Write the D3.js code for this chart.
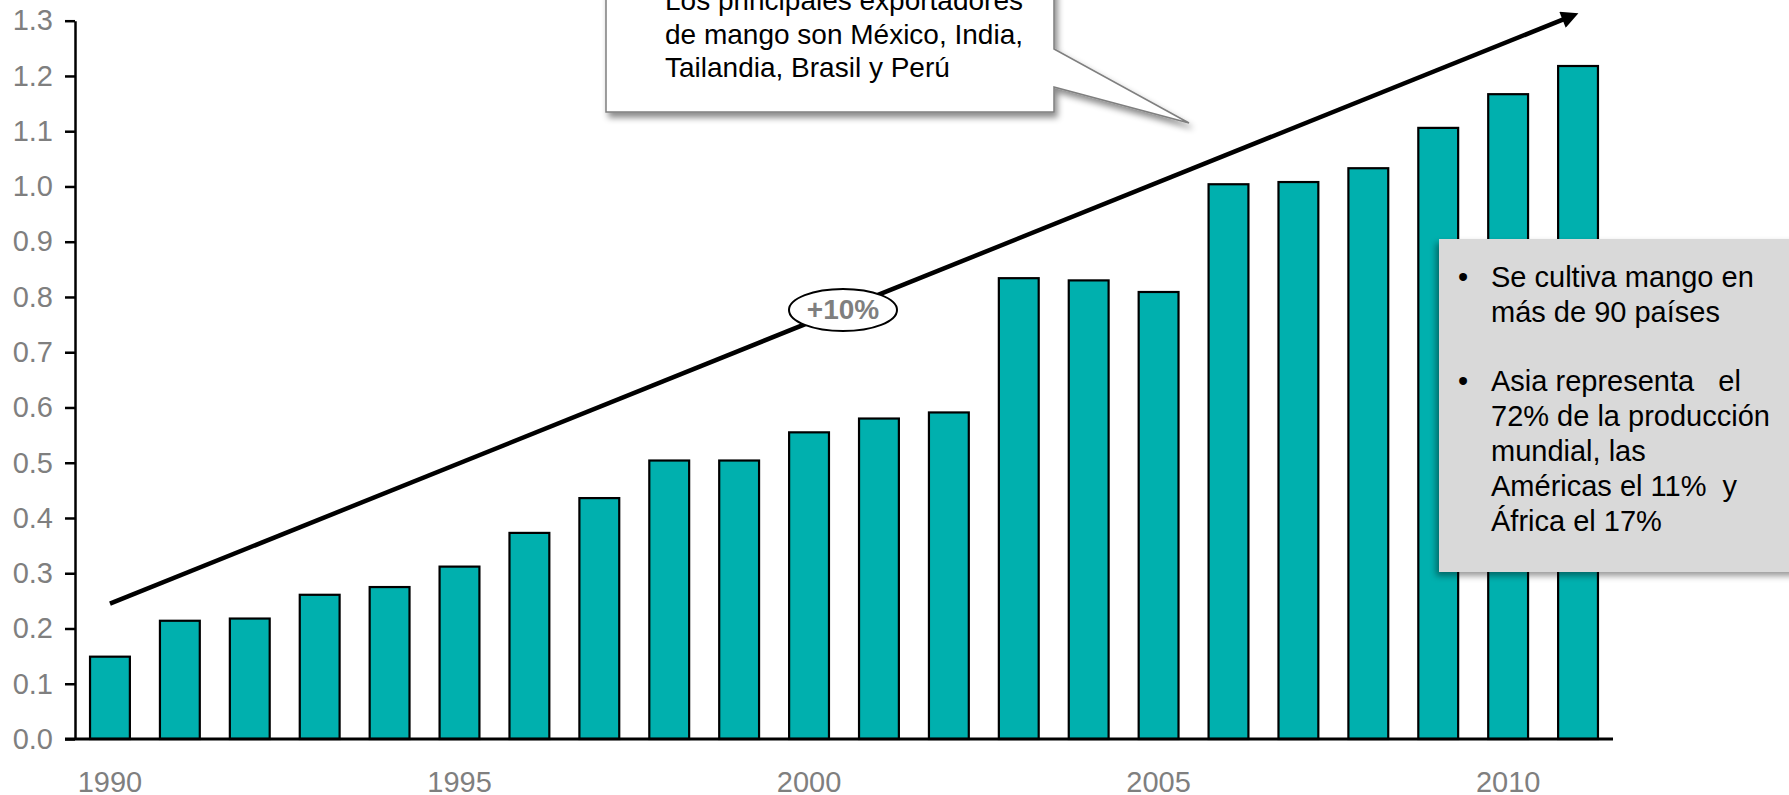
<!DOCTYPE html>
<html>
<head>
<meta charset="utf-8">
<script src="https://cdn.jsdelivr.net/npm/d3@7"></script>
<style>
  body { margin: 0; background: #fff; }
  svg { display: block; font-family: "Liberation Sans", Arial, sans-serif; }
  text { white-space: pre; }
</style>
</head>
<body>
<script>
// chart data
var years = [1990, 1991, 1992, 1993, 1994, 1995, 1996, 1997, 1998, 1999, 2000,
             2001, 2002, 2003, 2004, 2005, 2006, 2007, 2008, 2009, 2010, 2011];
var production = [0.149, 0.214, 0.218, 0.261, 0.275, 0.312, 0.373, 0.436, 0.504, 0.504, 0.555,
                  0.580, 0.591, 0.834, 0.830, 0.809, 1.004, 1.008, 1.033, 1.106, 1.167, 1.218];
var yTicks = [0, 0.1, 0.2, 0.3, 0.4, 0.5, 0.6, 0.7, 0.8, 0.9, 1.0, 1.1, 1.2, 1.3];
var xTicks = [1990, 1995, 2000, 2005, 2010];

// trend arrow (start / end in data units) and its label
var trendYears = [1990, 2011];
var trendValues = [0.245, 1.313];
var trendLabel = "+10%";

var calloutLines = ["Los principales exportadores", "de mango son México, India,", "Tailandia, Brasil y Perú"];
var boxBullets = [
    ["Se cultiva mango en", "más de 90 países"],
    ["Asia representa   el", "72% de la producción", "mundial, las", "Américas el 11%  y", "África el 17%"]
];

var svgWidth = 1789;
var svgHeight = 795;

var svg = d3.select("body")
    .append("svg")
    .attr("width", svgWidth)
    .attr("height", svgHeight);

var defs = svg.append("defs");
defs.append("filter")
    .attr("id", "shadow")
    .attr("x", "-20%").attr("y", "-20%").attr("width", "140%").attr("height", "150%")
  .append("feDropShadow")
    .attr("dx", 3).attr("dy", 5).attr("stdDeviation", 3)
    .attr("flood-color", "#000").attr("flood-opacity", 0.45);
defs.append("filter")
    .attr("id", "boxshadow")
    .attr("x", "-10%").attr("y", "-10%").attr("width", "130%").attr("height", "130%")
  .append("feDropShadow")
    .attr("dx", -3).attr("dy", 4).attr("stdDeviation", 3)
    .attr("flood-color", "#000").attr("flood-opacity", 0.4);
defs.append("marker")
    .attr("id", "arrowhead")
    .attr("viewBox", "0 0 10 10")
    .attr("refX", 6).attr("refY", 5)
    .attr("markerWidth", 4.6).attr("markerHeight", 3.8)
    .attr("markerUnits", "strokeWidth")
    .attr("orient", "auto")
  .append("path")
    .attr("d", "M0,0 L10,5 L0,10 Z")
    .attr("fill", "#000");

// scales
var x = d3.scaleBand()
    .domain(years)
    .range([75, 1613])
    .paddingInner(0.43)
    .paddingOuter(0.215);

var y = d3.scaleLinear()
    .domain([0, 1.3])
    .range([739, 20.7]);

var data = years.map(function(yr, i) { return {year: yr, value: production[i]}; });

// bars
svg.append("g")
    .selectAll("rect")
    .data(data)
    .enter()
    .append("rect")
    .attr("x", d => x(d.year))
    .attr("y", d => y(d.value))
    .attr("width", x.bandwidth())
    .attr("height", d => y(0) - y(d.value))
    .attr("fill", "#00b0ae")
    .attr("stroke", "#000")
    .attr("stroke-width", 2.2);

// y axis
var leftaxis = d3.axisLeft(y)
    .tickValues(yTicks)
    .tickFormat(d3.format(".1f"))
    .tickSize(10)
    .tickSizeOuter(0)
    .tickPadding(12);

var yg = svg.append("g")
    .attr("transform", "translate(75,0)")
    .call(leftaxis);
yg.select(".domain").attr("stroke", "#000").attr("stroke-width", 2.5);
yg.selectAll(".tick line").attr("stroke", "#000").attr("stroke-width", 2.5);
yg.selectAll(".tick text")
    .attr("fill", "#7f7f7f")
    .style("font-size", "29px")
    .style("font-family", "Liberation Sans, Arial, sans-serif");

// x axis
var bottomaxis = d3.axisBottom(x)
    .tickValues(xTicks)
    .tickSize(0)
    .tickSizeOuter(0)
    .tickPadding(32);

var xg = svg.append("g")
    .attr("transform", `translate(0, ${y(0)})`)
    .call(bottomaxis);
xg.select(".domain").remove();
xg.selectAll(".tick text")
    .attr("fill", "#7f7f7f")
    .style("font-size", "29px")
    .style("font-family", "Liberation Sans, Arial, sans-serif");

svg.append("line")
    .attr("x1", 65)
    .attr("x2", x.range()[1])
    .attr("y1", y(0))
    .attr("y2", y(0))
    .attr("stroke", "#000")
    .attr("stroke-width", 2.8);

// trend arrow
var ax1 = x(trendYears[0]) + x.bandwidth() / 2;
var ax2 = x(trendYears[1]) + x.bandwidth() / 2;
svg.append("line")
    .attr("x1", ax1)
    .attr("y1", y(trendValues[0]))
    .attr("x2", ax2 - 6)
    .attr("y2", y(trendValues[1]) + 2.4)
    .attr("stroke", "#000")
    .attr("stroke-width", 4.5)
    .attr("marker-end", "url(#arrowhead)");

// +10% label
var lab = svg.append("g").attr("transform", "translate(843,310)");
lab.append("ellipse")
    .attr("rx", 54)
    .attr("ry", 21)
    .attr("fill", "#fff")
    .attr("stroke", "#000")
    .attr("stroke-width", 2);
lab.append("text")
    .attr("text-anchor", "middle")
    .attr("y", 9)
    .attr("fill", "#7f7f7f")
    .style("font-size", "28px")
    .style("font-weight", "bold")
    .text(trendLabel);

// callout at the top
svg.append("path")
    .attr("d", "M606,-20 L1054,-20 L1054,49 L1189,123 L1054,87 L1054,112 L606,112 Z")
    .attr("fill", "#fff")
    .attr("stroke", "#7f7f7f")
    .attr("stroke-width", 1.5)
    .attr("filter", "url(#shadow)");

svg.append("g")
    .selectAll("text")
    .data(calloutLines)
    .enter()
    .append("text")
    .attr("x", 665)
    .attr("y", (d, i) => 10 + i * 33.5)
    .attr("fill", "#000")
    .style("font-size", "28px")
    .text(d => d);

// grey info box
svg.append("rect")
    .attr("x", 1439)
    .attr("y", 239)
    .attr("width", 380)
    .attr("height", 333)
    .attr("fill", "#d9d9d9")
    .attr("filter", "url(#boxshadow)");

var lineY = 287;
var boxText = svg.append("g").style("font-size", "29px").attr("fill", "#000");
boxBullets.forEach(function(lines, b) {
    boxText.append("text")
        .attr("x", 1458)
        .attr("y", lineY)
        .text("•");
    lines.forEach(function(l) {
        boxText.append("text")
            .attr("x", 1491)
            .attr("y", lineY)
            .text(l);
        lineY += 35;
    });
    lineY += 34;
});
</script>
</body>
</html>
